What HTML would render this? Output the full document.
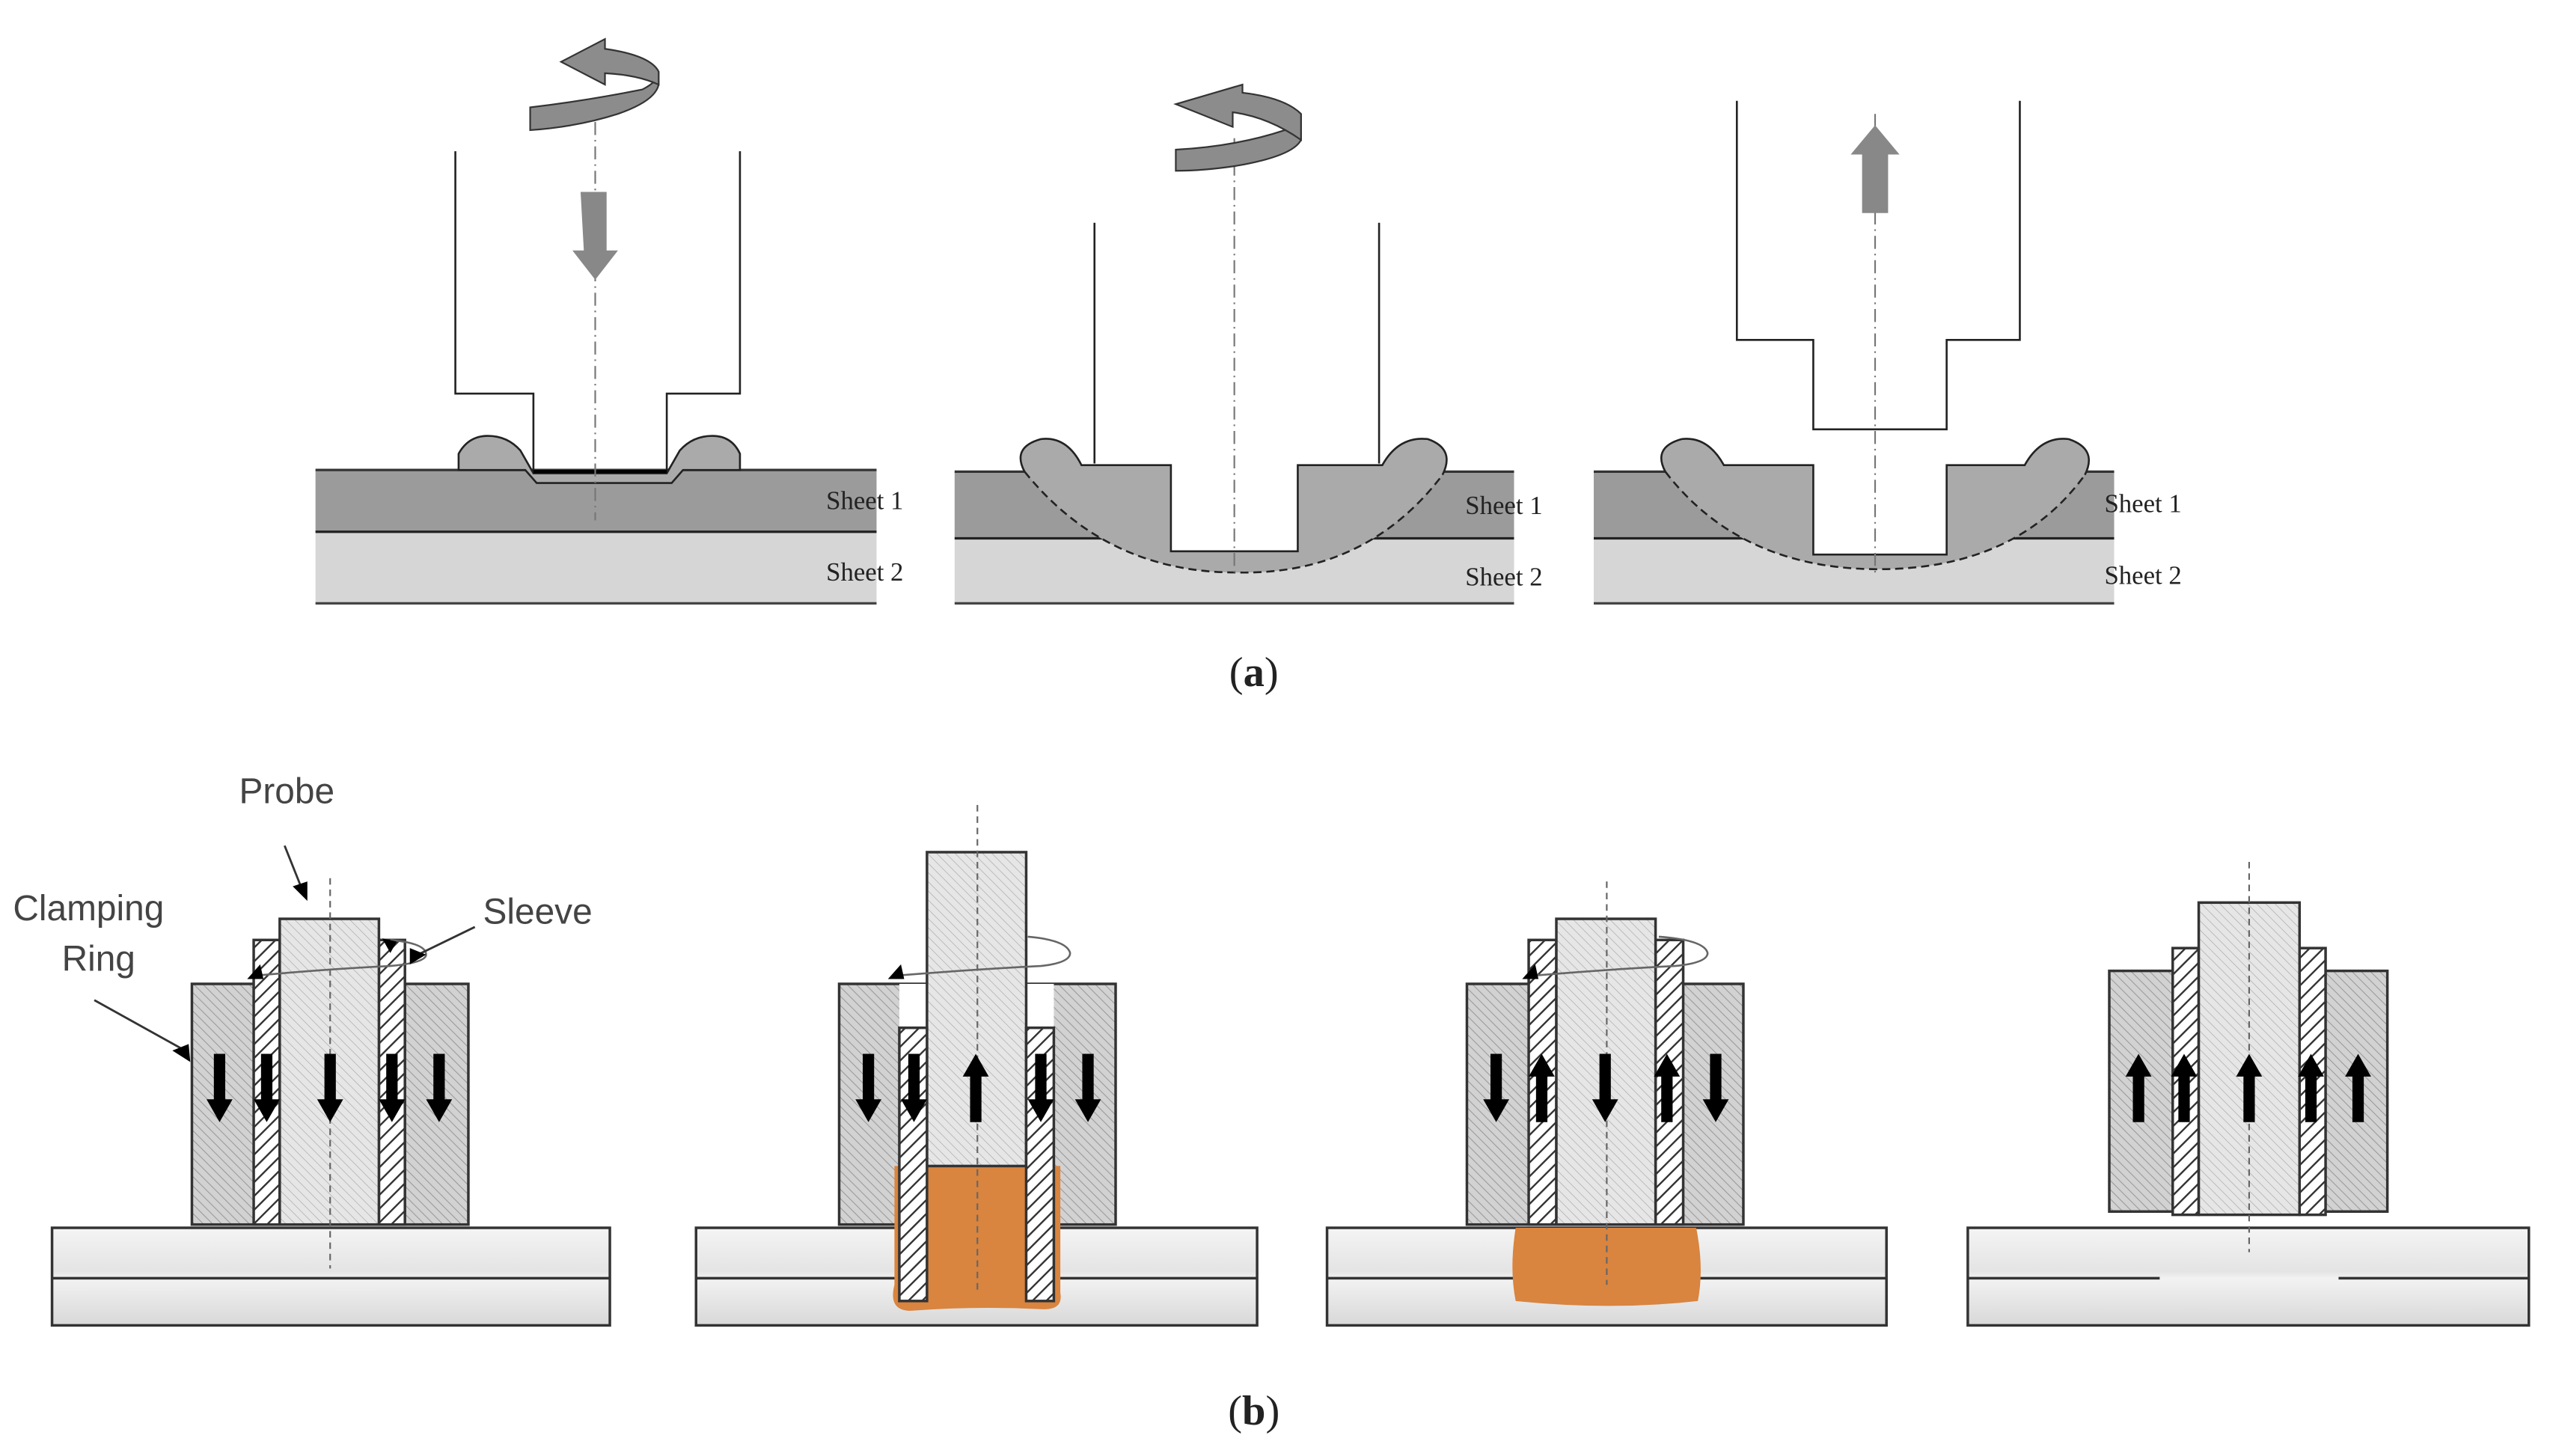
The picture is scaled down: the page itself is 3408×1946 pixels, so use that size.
<!DOCTYPE html>
<html><head><meta charset="utf-8">
<style>
html,body{margin:0;padding:0;background:#fff;}
svg{display:block;}
</style></head>
<body>
<svg width="3408" height="1946" viewBox="0 0 1568 895.3" xmlns="http://www.w3.org/2000/svg">
<defs>
<pattern id="h1" width="4" height="4" patternUnits="userSpaceOnUse" patternTransform="rotate(-45)">
<rect width="4" height="4" fill="#d2d2d2"/><line x1="0" y1="0" x2="0" y2="4" stroke="#9a9a9a" stroke-width="1"/></pattern>
<pattern id="h2" width="4" height="4" patternUnits="userSpaceOnUse" patternTransform="rotate(-45)">
<rect width="4" height="4" fill="#e6e6e6"/><line x1="0" y1="0" x2="0" y2="4" stroke="#b5b5b5" stroke-width="0.8"/></pattern>
<pattern id="h3" width="6" height="6" patternUnits="userSpaceOnUse" patternTransform="rotate(45)">
<rect width="6" height="6" fill="#fff"/><line x1="0" y1="0" x2="0" y2="6" stroke="#333" stroke-width="2.2"/></pattern>
<linearGradient id="wp" x1="0" y1="0" x2="0" y2="1">
<stop offset="0" stop-color="#f4f4f4"/><stop offset="0.45" stop-color="#e4e4e4"/><stop offset="0.52" stop-color="#f2f2f2"/><stop offset="1" stop-color="#d8d8d8"/></linearGradient>
<path id="ad" d="M-3.5,-21 h7 v28 h4.5 l-8,14 l-8,-14 h4.5 z" fill="#000"/>
<path id="au" d="M-3.5,21 h7 v-28 h4.5 l-8,-14 l-8,14 h4.5 z" fill="#000"/>
</defs>

<g font-family="Liberation Serif, serif" font-size="16" fill="#222">
<!-- ===== (a) panel 1 ===== -->
<rect x="194" y="289" width="345" height="38" fill="#9b9b9b"/>
<rect x="194" y="327" width="345" height="44" fill="#d6d6d6"/>
<line x1="194" y1="289" x2="539" y2="289" stroke="#333" stroke-width="1.5"/>
<line x1="194" y1="327" x2="539" y2="327" stroke="#222" stroke-width="1.5"/>
<line x1="194" y1="371" x2="539" y2="371" stroke="#444" stroke-width="1.5"/>
<path d="M282,289 L282,279 Q288,268 300,268 Q312,268 320,277 L328,291 L410,291 L418,277 Q426,268 438,268 Q450,268 455,279 L455,289 L420,289 L413,297 L330,297 L323,289 Z" fill="#aaa" stroke="#222" stroke-width="1.2"/>
<path d="M280,93 V242 H328 V290 H410 V242 H455 V93" fill="none" stroke="#222" stroke-width="1.2"/>
<line x1="328" y1="290" x2="410" y2="290" stroke="#000" stroke-width="2"/>
<line x1="366" y1="60" x2="366" y2="320" stroke="#777" stroke-width="1" stroke-dasharray="8,3,1,3"/>
<path d="M357,118 h16 v36 h7 l-14,18 l-14,-18 h7 z" fill="#888"/>
<path d="M326,66 Q360,62 395,55 Q405,50 405,44 L405,52 Q403,62 380,70 Q355,78 326,80 Z" fill="#8c8c8c" stroke="#333" stroke-width="1"/>
<path d="M405,44 Q400,34 372,30 L372,24 L345,38 L372,52 L372,45 Q392,46 405,52 Z" fill="#8c8c8c" stroke="#333" stroke-width="1"/>
<text x="508" y="313">Sheet 1</text>
<text x="508" y="357">Sheet 2</text>

<!-- ===== (a) panel 2 ===== -->
<rect x="587" y="290" width="344" height="41" fill="#9b9b9b"/>
<rect x="587" y="331" width="344" height="40" fill="#d6d6d6"/>
<line x1="587" y1="290" x2="931" y2="290" stroke="#333" stroke-width="1.5"/>
<line x1="587" y1="331" x2="931" y2="331" stroke="#222" stroke-width="1.5"/>
<line x1="587" y1="371" x2="931" y2="371" stroke="#444" stroke-width="1.5"/>
<path d="M630,290 Q622,275 640,270 Q656,268 665,286 L720,286 V339 H798 V286 L850,286 Q860,268 878,270 Q895,276 887,292 Q840,354 760,352 Q680,352 630,290 Z" fill="#aaa"/>
<rect x="720" y="284" width="78" height="55" fill="#fff"/>
<path d="M630,290 Q622,275 640,270 Q656,268 665,286 L720,286 V339 H798 V286 L850,286 Q860,268 878,270 Q895,276 887,292" fill="none" stroke="#222" stroke-width="1.2"/>
<path d="M630,290 Q680,352 760,352 Q840,354 887,292" fill="none" stroke="#222" stroke-width="1.2" stroke-dasharray="5,3"/>
<line x1="673" y1="137" x2="673" y2="285" stroke="#222" stroke-width="1.2"/>
<line x1="848" y1="137" x2="848" y2="285" stroke="#222" stroke-width="1.2"/>
<line x1="759" y1="85" x2="759" y2="355" stroke="#777" stroke-width="1" stroke-dasharray="8,3,1,3"/>
<path d="M723,92 Q760,90 790,80 Q800,75 800,70 L800,86 Q795,96 760,102 Q740,105 723,105 Z" fill="#8c8c8c" stroke="#333" stroke-width="1"/>
<path d="M800,70 Q790,60 764,57 L764,52 L723,64 L758,78 L758,69 Q780,72 800,86 Z" fill="#8c8c8c" stroke="#333" stroke-width="1"/>
<text x="901" y="316">Sheet 1</text>
<text x="901" y="360">Sheet 2</text>

<!-- ===== (a) panel 3 ===== -->
<rect x="980" y="290" width="320" height="41" fill="#9b9b9b"/>
<rect x="980" y="331" width="320" height="40" fill="#d6d6d6"/>
<line x1="980" y1="290" x2="1300" y2="290" stroke="#333" stroke-width="1.5"/>
<line x1="980" y1="331" x2="1300" y2="331" stroke="#222" stroke-width="1.5"/>
<line x1="980" y1="371" x2="1300" y2="371" stroke="#444" stroke-width="1.5"/>
<path d="M1024,290 Q1016,275 1034,270 Q1050,268 1060,286 L1115,286 V341 H1197 V286 L1245,286 Q1255,268 1272,270 Q1290,276 1282,292 Q1240,350 1155,350 Q1070,350 1024,290 Z" fill="#aaa"/>
<rect x="1115" y="284" width="82" height="57" fill="#fff"/>
<path d="M1024,290 Q1016,275 1034,270 Q1050,268 1060,286 L1115,286 V341 H1197 V286 L1245,286 Q1255,268 1272,270 Q1290,276 1282,292" fill="none" stroke="#222" stroke-width="1.2"/>
<path d="M1024,290 Q1070,350 1155,350 Q1240,350 1282,292" fill="none" stroke="#222" stroke-width="1.2" stroke-dasharray="5,3"/>
<path d="M1068,62 V209 H1115 V264 H1197 V209 H1242 V62" fill="none" stroke="#222" stroke-width="1.2"/>
<line x1="1153" y1="70" x2="1153" y2="355" stroke="#777" stroke-width="1" stroke-dasharray="8,3,1,3"/>
<path d="M1145,131 h16 v-36 h7 l-15,-18 l-15,18 h7 z" fill="#888"/>
<text x="1294" y="315">Sheet 1</text>
<text x="1294" y="359">Sheet 2</text>

<text x="771" y="422" font-size="26" text-anchor="middle">(<tspan font-weight="bold">a</tspan>)</text>
<text x="771" y="876" font-size="26" text-anchor="middle">(<tspan font-weight="bold">b</tspan>)</text>
</g>

<!-- ===== (b) ===== -->
<g stroke="#333" stroke-width="1.6">
<rect x="32" y="755" width="343" height="60" fill="url(#wp)"/>
<line x1="32" y1="786" x2="375" y2="786"/>
<rect x="118" y="605" width="170" height="148" fill="url(#h1)"/>
<rect x="156" y="578" width="16" height="175" fill="url(#h3)"/>
<rect x="233" y="578" width="16" height="175" fill="url(#h3)"/>
<rect x="172" y="565" width="61" height="188" fill="url(#h2)"/>

<rect x="428" y="755" width="345" height="60" fill="url(#wp)"/>
<line x1="428" y1="786" x2="773" y2="786"/>
<rect x="516" y="605" width="170" height="148" fill="url(#h1)"/>
<rect x="553" y="605" width="95" height="148" fill="#fff" stroke="none"/>
<path d="M550,717 H652 V795 Q654,806 640,805 Q600,803 560,806 Q546,806 550,790 Z" fill="#d9843f" stroke="none"/>
<rect x="570" y="524" width="61" height="193" fill="url(#h2)"/>
<rect x="553" y="632" width="17" height="168" fill="url(#h3)"/>
<rect x="631" y="632" width="17" height="168" fill="url(#h3)"/>

<rect x="816" y="755" width="344" height="60" fill="url(#wp)"/>
<line x1="816" y1="786" x2="1160" y2="786"/>
<path d="M932,755 H1043 Q1048,780 1044,800 Q990,806 932,800 Q928,780 932,755 Z" fill="#d9843f" stroke="none"/>
<rect x="902" y="605" width="170" height="148" fill="url(#h1)"/>
<rect x="940" y="578" width="17" height="175" fill="url(#h3)"/>
<rect x="1018" y="578" width="17" height="175" fill="url(#h3)"/>
<rect x="957" y="565" width="61" height="188" fill="url(#h2)"/>

<rect x="1210" y="755" width="345" height="60" fill="url(#wp)"/>
<line x1="1210" y1="786" x2="1328" y2="786"/>
<line x1="1438" y1="786" x2="1555" y2="786"/>
<rect x="1297" y="597" width="171" height="148" fill="url(#h1)"/>
<rect x="1336" y="583" width="16" height="164" fill="url(#h3)"/>
<rect x="1414" y="583" width="16" height="164" fill="url(#h3)"/>
<rect x="1352" y="555" width="62" height="192" fill="url(#h2)"/>
</g>

<g stroke="#666" stroke-width="1" stroke-dasharray="4,3">
<line x1="203" y1="540" x2="203" y2="780"/>
<line x1="601" y1="495" x2="601" y2="795"/>
<line x1="988" y1="542" x2="988" y2="790"/>
<line x1="1383" y1="530" x2="1383" y2="770"/>
</g>

<g fill="none" stroke="#666" stroke-width="1.2">
<path d="M156,600 Q200,596 240,594 Q262,592 262,587 Q262,580 240,578"/>
<path d="M550,600 Q600,596 640,594 Q658,592 658,586 Q656,578 632,576"/>
<path d="M942,600 Q990,596 1030,594 Q1050,592 1050,586 Q1048,578 1020,576"/>
</g>
<g fill="#000">
<path d="M152,602 l8,-9 l2,9 z"/><path d="M240,586 l-5,-9 l9,2 z"/>
<path d="M546,602 l8,-9 l2,9 z"/>
<path d="M936,602 l8,-9 l2,9 z"/>
</g>

<g>
<use href="#ad" x="135" y="669"/><use href="#ad" x="164" y="669"/><use href="#ad" x="203" y="669"/><use href="#ad" x="241" y="669"/><use href="#ad" x="270" y="669"/>
<use href="#ad" x="534" y="669"/><use href="#ad" x="562" y="669"/><use href="#au" x="600" y="669"/><use href="#ad" x="640" y="669"/><use href="#ad" x="669" y="669"/>
<use href="#ad" x="920" y="669"/><use href="#au" x="948" y="669"/><use href="#ad" x="987" y="669"/><use href="#au" x="1025" y="669"/><use href="#ad" x="1055" y="669"/>
<use href="#au" x="1315" y="669"/><use href="#au" x="1343" y="669"/><use href="#au" x="1383" y="669"/><use href="#au" x="1421" y="669"/><use href="#au" x="1450" y="669"/>
</g>

<g font-family="Liberation Sans, sans-serif" font-size="22" fill="#444">
<text x="147" y="494">Probe</text>
<text x="8" y="566">Clamping</text>
<text x="38" y="597">Ring</text>
<text x="297" y="568">Sleeve</text>
</g>
<g stroke="#333" stroke-width="1.3" fill="#000">
<line x1="175" y1="520" x2="185" y2="545"/>
<path d="M180,545 l9,-3 l0,12 z" stroke="none"/>
<line x1="58" y1="615" x2="112" y2="645"/>
<path d="M106,646 l10,-4 l1,11 z" stroke="none"/>
<line x1="292" y1="570" x2="255" y2="588"/>
<path d="M252,583 l10,4 l-10,6 z" stroke="none"/>
</g>
</svg>
</body></html>
